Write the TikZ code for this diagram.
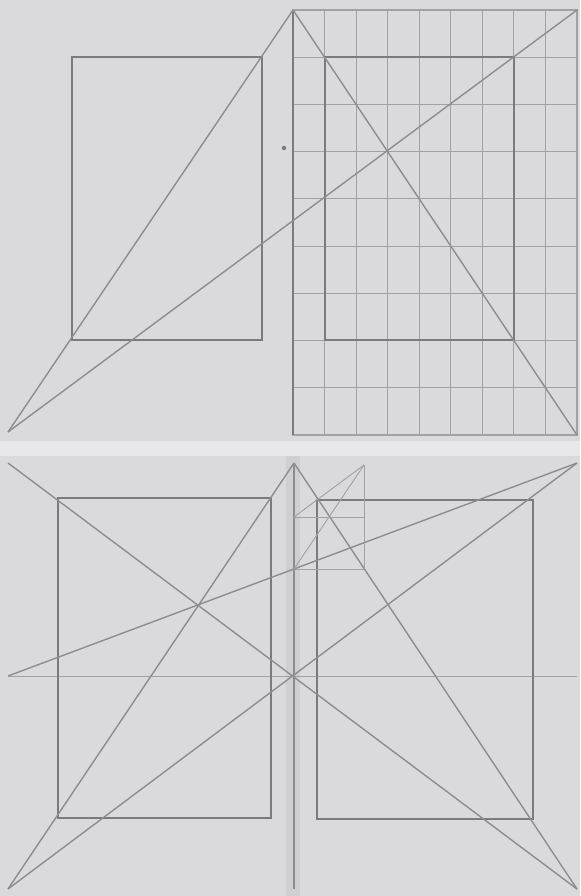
\documentclass[tikz,border=0pt]{standalone}
\definecolor{paper}{RGB}{218,218,221}
\definecolor{margin}{RGB}{232,232,234}
\definecolor{ink}{RGB}{122,122,128}
\definecolor{guideink}{RGB}{140,140,146}
\definecolor{gridink}{RGB}{160,160,165}
\tikzset{
  textblock/.style={draw=ink, line width=1pt},
  guide/.style={draw=guideink, line width=0.7pt},
  gridline/.style={draw=gridink, line width=0.55pt},
  faintline/.style={draw=gridink, line width=0.45pt},
}
\begin{document}
\begin{tikzpicture}[x=0.5pt, y=-0.5pt]
    \useasboundingbox (0,0) rectangle (580,896);
    % 纸面背景
    \fill[margin] (0,0) rectangle (580,896);
    \fill[paper] (0,0) rectangle (580,441);
    \fill[paper] (0,456) rectangle (580,896);
    \fill[paper!95!black] (286,456) rectangle (300,896);

    % ---------- 上图：九等分网格 ----------
    \coordinate (bl) at (8,432);
    \coordinate (st) at (293,10);
    \coordinate (tr) at (577,10);
    \coordinate (br) at (577,435);

    % 右页网格
    \foreach \i in {1,...,8} {
        \draw[gridline] ({293+\i*284/9},10) -- ({293+\i*284/9},435);
        \draw[gridline] (293,{10+\i*425/9}) -- (577,{10+\i*425/9});
    }
    \draw[gridline] (st) rectangle (br);
    \draw[ink, line width=1.4pt] (st) -- (293,435);

    % 版心
    \draw[textblock] (72,57) rectangle (262,340);
    \draw[textblock] (325,57) rectangle (514,340);

    % 对角线
    \draw[guide] (bl) -- (st);
    \draw[guide] (bl) -- (tr);
    \draw[guide] (st) -- (br);

    \fill[ink] (284,148) circle (2.2);

    % ---------- 下图：对角线构造 ----------
    \coordinate (TL) at (8,463);
    \coordinate (BL) at (8,889);
    \coordinate (TR) at (577,463);
    \coordinate (BR) at (577,889);
    \coordinate (ST) at (294,463);
    \coordinate (SB) at (294,889);
    \coordinate (LM) at (8,676);
    \coordinate (RM) at (577,676);
    \coordinate (P) at (364,465);

    % 中线与书脊
    \draw[faintline] (LM) -- (RM);
    \draw[draw=guideink, line width=0.9pt] (ST) -- (SB);

    % 版心
    \draw[textblock] (58,498) rectangle (271,818);
    \draw[textblock] (317,500) rectangle (533,819);

    % 对角线
    \draw[guide] (TL) -- (BR);
    \draw[guide] (BL) -- (TR);
    \draw[guide] (BL) -- (ST);
    \draw[guide] (ST) -- (BR);
    \draw[guide] (LM) -- (TR);

    % 书脊顶部的小构造
    \draw[faintline] (294,517) -- (364,517);
    \draw[faintline] (294,569) -- (364,569);
    \draw[faintline] (P) -- (364,569);
    \draw[faintline] (P) -- (294,517);
    \draw[faintline] (P) -- (294,569);
\end{tikzpicture}
\end{document}
